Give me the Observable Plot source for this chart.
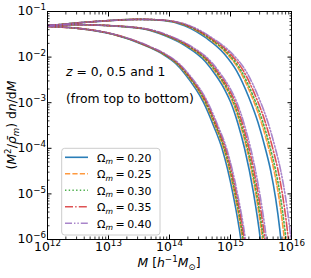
<!DOCTYPE html>
<html><head><meta charset="utf-8">
<script src="https://cdn.jsdelivr.net/npm/d3@7"></script>
<script src="https://cdn.jsdelivr.net/npm/@observablehq/plot@0.6"></script>
<style>body{margin:0;background:#fff} svg{display:block} text{white-space:pre}</style>
</head><body><div id="chart"></div>
<script>
// ---- categories / styles ----
const omegaLabels = ["0.20", "0.25", "0.30", "0.35", "0.40"];
const colors = ["#1f77b4", "#ff7f0e", "#2ca02c", "#d62728", "#9467bd"];
const dashes = [null, "5.2,2.2", "1.4,2.3", "8,2.2,1.4,2.2", "7,2,1.4,2,1.4,2"];
const opac = [0.95, 0.8, 0.85, 0.8, 0.8];
const xTicks = [1e12, 1e13, 1e14, 1e15, 1e16];
const yTicks = [1e-6, 1e-5, 1e-4, 1e-3, 1e-2, 1e-1];

// ---- z = 0 (top group): log10 values ----
const z0_logy = [-1.314, -1.25, -1.20, -1.172, -1.195, -1.31, -1.58, -1.93, -2.30, -2.88, -3.43, -4.0, -4.5, -5.1, -5.8, -6.3, -7.0];
const z0_logM_020 = [12.0, 12.5, 13.0, 13.5, 13.9, 14.25, 14.6, 14.9, 15.1, 15.3, 15.45, 15.57, 15.66, 15.74, 15.81, 15.85, 15.9];
const z0_logM_025 = [12.0, 12.5, 13.003, 13.51, 13.917, 14.277, 14.634, 14.944, 15.151, 15.354, 15.505, 15.626, 15.716, 15.796, 15.866, 15.906, 15.956];
const z0_logM_030 = [12.0, 12.5, 13.005, 13.515, 13.925, 14.29, 14.65, 14.965, 15.175, 15.38, 15.532, 15.653, 15.743, 15.823, 15.893, 15.933, 15.983];
const z0_logM_035 = [12.0, 12.5, 13.007, 13.522, 13.937, 14.309, 14.674, 14.996, 15.211, 15.418, 15.571, 15.692, 15.782, 15.862, 15.932, 15.972, 16.022];
const z0_logM_040 = [12.0, 12.5, 13.01, 13.53, 13.95, 14.33, 14.7, 15.03, 15.25, 15.46, 15.613, 15.735, 15.825, 15.905, 15.975, 16.015, 16.065];

// ---- z = 0.5 (middle group) ----
const z05_logy = [-1.30, -1.29, -1.31, -1.388, -1.533, -1.752, -2.10, -2.38, -2.70, -2.98, -3.45, -4.0, -5.0, -6.0, -7.0];
const z05_logM_020 = [12.0, 12.5, 13.0, 13.6, 13.93, 14.26, 14.59, 14.75, 14.9, 15.0, 15.12, 15.23, 15.38, 15.49, 15.57];
const z05_logM_025 = [12.0, 12.502, 13.007, 13.617, 13.954, 14.287, 14.621, 14.782, 14.934, 15.034, 15.154, 15.264, 15.414, 15.524, 15.604];
const z05_logM_030 = [12.0, 12.503, 13.01, 13.625, 13.965, 14.3, 14.635, 14.798, 14.95, 15.05, 15.17, 15.28, 15.43, 15.54, 15.62];
const z05_logM_035 = [12.0, 12.504, 13.015, 13.637, 13.982, 14.319, 14.657, 14.82, 14.974, 15.074, 15.194, 15.304, 15.454, 15.564, 15.644];
const z05_logM_040 = [12.0, 12.505, 13.02, 13.65, 14.0, 14.34, 14.68, 14.845, 15.0, 15.1, 15.22, 15.33, 15.48, 15.59, 15.67];

// ---- z = 1 (bottom group) ----
const z1_logy = [-1.33, -1.37, -1.50, -1.752, -1.97, -2.14, -2.38, -3.0, -3.5, -4.0, -5.0, -6.0, -7.0];
const z1_logM_020 = [12.0, 12.5, 13.07, 13.61, 13.93, 14.1, 14.26, 14.56, 14.72, 14.86, 15.04, 15.17, 15.26];
const z1_logM_025 = [12.0, 12.502, 13.077, 13.624, 13.947, 14.119, 14.28, 14.584, 14.745, 14.886, 15.066, 15.196, 15.286];
const z1_logM_030 = [12.0, 12.503, 13.08, 13.63, 13.955, 14.128, 14.29, 14.595, 14.756, 14.898, 15.078, 15.208, 15.298];
const z1_logM_035 = [12.0, 12.504, 13.085, 13.64, 13.967, 14.141, 14.304, 14.612, 14.773, 14.916, 15.096, 15.226, 15.316];
const z1_logM_040 = [12.0, 12.505, 13.09, 13.65, 13.98, 14.155, 14.32, 14.63, 14.792, 14.935, 15.115, 15.245, 15.335];

const groups = [
  {z: "0", logy: z0_logy, logM: [z0_logM_020, z0_logM_025, z0_logM_030, z0_logM_035, z0_logM_040]},
  {z: "0.5", logy: z05_logy, logM: [z05_logM_020, z05_logM_025, z05_logM_030, z05_logM_035, z05_logM_040]},
  {z: "1", logy: z1_logy, logM: [z1_logM_020, z1_logM_025, z1_logM_030, z1_logM_035, z1_logM_040]}
];

const rows = [];
groups.forEach(g => g.logM.forEach((arr, i) => arr.forEach((lm, j) => {
  rows.push({M: 10 ** lm, y: 10 ** g.logy[j], om: i, series: g.z + "-" + i});
})));

const minorX = []; for (let e = 12; e < 16; e++) for (let m = 2; m <= 9; m++) minorX.push(m * 10 ** e);
const minorY = []; for (let e = -6; e < -1; e++) for (let m = 2; m <= 9; m++) minorY.push(m * 10 ** e);
const expFmt = d => "10^" + Math.round(Math.log10(d));

const lineMarks = omegaLabels.map((_, i) => Plot.line(rows.filter(d => d.om === i), {
  x: "M", y: "y", z: "series", stroke: colors[i], strokeWidth: 1.6,
  strokeDasharray: dashes[i] || undefined, strokeOpacity: opac[i], curve: "monotone-x", clip: true
}));

const tk = {fill: "none", label: null};
const svg = Plot.plot({
  width: 311, height: 278,
  marginLeft: 47, marginRight: 20, marginTop: 11, marginBottom: 39,
  style: {fontFamily: "'DejaVu Sans'", fontSize: "12.4px", background: "white", color: "black"},
  x: {type: "log", domain: [1e12, 1e16], label: null},
  y: {type: "log", domain: [1e-6, 1e-1], label: null},
  marks: [
    ...lineMarks,
    Plot.frame({stroke: "black", strokeWidth: 1}),
    Plot.axisX(xTicks, {...tk, tickSize: -4.5}),
    Plot.axisX(minorX, {...tk, tickSize: -2.5, strokeWidth: 0.8}),
    Plot.axisX(xTicks, {...tk, anchor: "top", tickSize: -4.5}),
    Plot.axisX(minorX, {...tk, anchor: "top", tickSize: -2.5, strokeWidth: 0.8}),
    Plot.axisY(yTicks, {...tk, tickSize: -4.5}),
    Plot.axisY(minorY, {...tk, tickSize: -2.5, strokeWidth: 0.8}),
    Plot.axisY(yTicks, {...tk, anchor: "right", tickSize: -4.5}),
    Plot.axisY(minorY, {...tk, anchor: "right", tickSize: -2.5, strokeWidth: 0.8}),
    Plot.axisX(xTicks, {tickSize: 0, tickPadding: 3, tickFormat: expFmt, label: null}),
    Plot.axisY(yTicks, {tickSize: 0, tickPadding: 1.5, tickFormat: expFmt, label: null})
  ]
});
document.getElementById("chart").appendChild(svg);

const ns = "http://www.w3.org/2000/svg";
// superscript exponents in tick labels
svg.querySelectorAll('g[aria-label="x-axis tick label"] text, g[aria-label="y-axis tick label"] text').forEach(t => {
  const s = t.textContent;
  if (!s.includes("^")) return;
  const [b, e] = s.split("^");
  t.textContent = b;
  const ts = document.createElementNS(ns, "tspan");
  ts.setAttribute("dy", "-5.2");
  ts.setAttribute("font-size", "8.7");
  ts.textContent = e.replace("-", "\u2212");
  t.appendChild(ts);
});

function richText(parent, x, y, parts, size, attrs) {
  const t = document.createElementNS(ns, "text");
  t.setAttribute("x", x); t.setAttribute("y", y);
  t.setAttribute("font-size", size);
  t.setAttribute("fill", "black");
  t.setAttribute("text-anchor", "start");
  for (const [k, v] of Object.entries(attrs || {})) t.setAttribute(k, v);
  let cur = 0;
  for (const p of parts) {
    const s = document.createElementNS(ns, "tspan");
    const shift = p.sup ? -0.42 * size : p.sub ? 0.22 * size : 0;
    if (shift !== cur) { s.setAttribute("dy", (shift - cur).toFixed(2)); cur = shift; }
    if (p.sup || p.sub) s.setAttribute("font-size", (0.7 * size).toFixed(2));
    if (p.i) s.setAttribute("font-style", "italic");
    if (p.dx) s.setAttribute("dx", p.dx);
    s.textContent = p.t;
    t.appendChild(s);
  }
  parent.appendChild(t);
  return t;
}

const fs = 12.4;
// axis labels
richText(svg, 169, 267, [
  {t: "M", i: 1}, {t: " ["}, {t: "h", i: 1}, {t: "\u22121", sup: 1}, {t: "M", i: 1}, {t: "\u2299", sub: 1}, {t: "]"}
], fs, {"text-anchor": "middle"});
richText(svg, 16, 125, [
  {t: "("}, {t: "M", i: 1}, {t: "2", sup: 1}, {t: "/"}, {t: "\u03C1\u0304", i: 1}, {t: "m", i: 1, sub: 1},
  {t: ") d"}, {t: "n", i: 1}, {t: "/d"}, {t: "M", i: 1}
], fs, {"text-anchor": "middle", transform: "rotate(-90,16,125)"});

// annotations
richText(svg, 66, 76, [{t: "z", i: 1}, {t: " = 0, 0.5 and 1"}], fs);
richText(svg, 66, 102.5, [{t: "(from top to bottom)"}], fs);

// legend
const lg = document.createElementNS(ns, "g");
svg.appendChild(lg);
const box = document.createElementNS(ns, "rect");
Object.entries({x: 61.7, y: 148.3, width: 98.3, height: 86.7, rx: 3, fill: "white", "fill-opacity": 0.8, stroke: "#cccccc", "stroke-width": 1})
  .forEach(([k, v]) => box.setAttribute(k, v));
lg.appendChild(box);
omegaLabels.forEach((lab, i) => {
  const yy = 157.3 + 16.5 * i;
  const ln = document.createElementNS(ns, "line");
  Object.entries({x1: 65, x2: 88, y1: yy, y2: yy, stroke: colors[i], "stroke-width": 1.6, "stroke-opacity": opac[i]})
    .forEach(([k, v]) => ln.setAttribute(k, v));
  if (dashes[i]) ln.setAttribute("stroke-dasharray", dashes[i]);
  lg.appendChild(ln);
  richText(lg, 97, yy + 4.3, [{t: "\u03A9"}, {t: "m", i: 1, sub: 1}, {t: "=", dx: 2.5}, {t: lab, dx: 2.5}], 11);
});
</script>
</body></html>
